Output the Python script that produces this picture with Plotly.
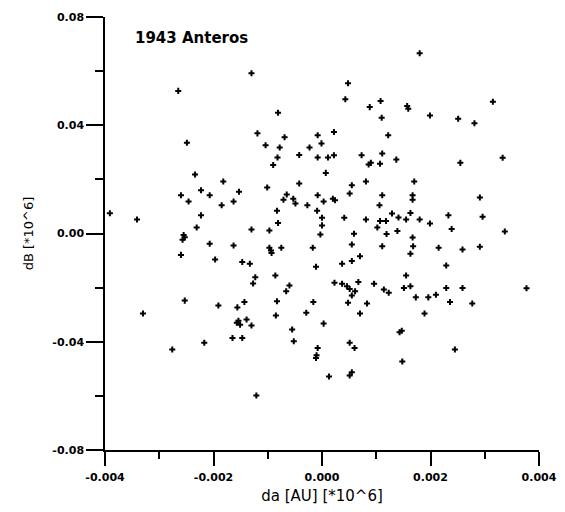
import plotly.graph_objects as go

# Data: da [AU] and dB values
da = [0.00180, -0.00130, 0.00048, -0.00265, 0.00043, 0.00108, 0.00315, 0.00088, 0.00157, 0.00159,
      -0.00081, 0.00199, 0.00110, 0.00251, 0.00281, 0.00022, -0.00119, -0.00008, 0.00122, -0.00069,
      -0.00249, -0.00104, -0.00001, -0.00078, -0.00023, 0.00111, -0.00042, -0.00008, -0.00082, 0.00011,
      0.00022, 0.00073, 0.00137, 0.00333, 0.00086, 0.00090, 0.00107, 0.00255, -0.00090, 0.00007,
      -0.00234, -0.00182, -0.00042, 0.00081, 0.00170, 0.00055, -0.00101, -0.00223, -0.00153, -0.00260,
      -0.00207, -0.00008, 0.00051, 0.00111, 0.00167, 0.00291, -0.00065, -0.00071, -0.00053, 0.00020,
      0.00024, 0.00167, -0.00246, -0.00163, -0.00049, 0.00003, -0.00185, -0.00027, 0.00106, -0.00083,
      -0.00009, 0.00163, 0.00129, -0.00391, -0.00223, 0.00233, 0.00296, 0.00141, -0.00341, 0.00000,
      0.00041, 0.00081, 0.00107, 0.00118, 0.00155, 0.00180, 0.00199, -0.00081, 0.00000, -0.00231,
      0.00102, 0.00239, -0.00130, -0.00097, 0.00139, 0.00337, -0.00003, 0.00059, 0.00119, -0.00255,
      -0.00253, -0.00257, 0.00167, -0.00207, -0.00163, 0.00055, 0.00111, 0.00168, 0.00215, 0.00291,
      -0.00097, -0.00075, -0.00017, -0.00094, -0.00093, 0.00259, -0.00260, 0.00163, 0.00070, -0.00197,
      0.00055, -0.00147, -0.00133, 0.00037, 0.00229, -0.00011, -0.00086, -0.00123, 0.00155, -0.00127,
      0.00023, 0.00037, 0.00067, 0.00096, 0.00046, -0.00060, 0.00163, 0.00151, 0.00229, 0.00259,
      0.00377, 0.00051, 0.00061, 0.00114, 0.00123, -0.00066, 0.00055, 0.00173, 0.00196, 0.00210,
      -0.00253, -0.00083, -0.00016, 0.00048, 0.00083, 0.00236, 0.00277, -0.00191, -0.00156, -0.00143,
      -0.00330, -0.00085, -0.00029, 0.00070, 0.00189, -0.00154, -0.00157, -0.00151, -0.00139, -0.00130,
      0.00003, -0.00055, 0.00147, 0.00143, -0.00165, -0.00147, -0.00052, -0.00217, 0.00051, 0.00060,
      -0.00008, -0.00276, 0.00245, -0.00010, -0.00011, 0.00148, 0.00013, 0.00051, 0.00055, -0.00121]

dB = [0.0666, 0.0592, 0.0555, 0.0527, 0.0496, 0.0490, 0.0487, 0.0467, 0.0471, 0.0461,
      0.0446, 0.0436, 0.0428, 0.0424, 0.0407, 0.0375, 0.0370, 0.0363, 0.0363, 0.0356,
      0.0335, 0.0326, 0.0333, 0.0318, 0.0318, 0.0296, 0.0290, 0.0281, 0.0281, 0.0281,
      0.0289, 0.0289, 0.0273, 0.0280, 0.0255, 0.0261, 0.0258, 0.0261, 0.0253, 0.0224,
      0.0218, 0.0192, 0.0185, 0.0192, 0.0192, 0.0178, 0.0170, 0.0160, 0.0154, 0.0141,
      0.0141, 0.0141, 0.0148, 0.0141, 0.0141, 0.0133, 0.0144, 0.0125, 0.0128, 0.0128,
      0.0123, 0.0125, 0.0118, 0.0118, 0.0111, 0.0118, 0.0104, 0.0104, 0.0104, 0.0084,
      0.0084, 0.0076, 0.0074, 0.0075, 0.0067, 0.0067, 0.0062, 0.0059, 0.0052, 0.0058,
      0.0058, 0.0052, 0.0046, 0.0046, 0.0052, 0.0052, 0.0037, 0.0039, 0.0030, 0.0022,
      0.0022, 0.0017, 0.0015, 0.0011, 0.0009, 0.0007, -0.0004, -0.0001, -0.0002, -0.0006,
      -0.0014, -0.0023, -0.0015, -0.0038, -0.0044, -0.0041, -0.0047, -0.0047, -0.0053, -0.0049,
      -0.0053, -0.0053, -0.0053, -0.0063, -0.0072, -0.0059, -0.0079, -0.0075, -0.0084, -0.0096,
      -0.0102, -0.0105, -0.0112, -0.0112, -0.0118, -0.0123, -0.0155, -0.0162, -0.0155, -0.0185,
      -0.0182, -0.0186, -0.0179, -0.0186, -0.0195, -0.0192, -0.0195, -0.0201, -0.0201, -0.0201,
      -0.0202, -0.0205, -0.0213, -0.0207, -0.0219, -0.0213, -0.0229, -0.0236, -0.0236, -0.0226,
      -0.0248, -0.0250, -0.0253, -0.0256, -0.0259, -0.0253, -0.0259, -0.0266, -0.0273, -0.0253,
      -0.0296, -0.0303, -0.0293, -0.0296, -0.0296, -0.0322, -0.0330, -0.0337, -0.0318, -0.0340,
      -0.0333, -0.0355, -0.0359, -0.0365, -0.0386, -0.0386, -0.0398, -0.0404, -0.0404, -0.0423,
      -0.0423, -0.0429, -0.0429, -0.0450, -0.0460, -0.0473, -0.0528, -0.0525, -0.0513, -0.0599]

x_tickvals = [-0.004, -0.002, 0.0, 0.002, 0.004]
x_ticktext = ["-0.004", "-0.002", "0.000", "0.002", "0.004"]
y_tickvals = [-0.08, -0.04, 0.0, 0.04, 0.08]
y_ticktext = ["-0.08", "-0.04", "0.00", "0.04", "0.08"]

title_text = "1943 Anteros"
x_title = "da [AU] [*10^6]"
y_title = "dB [*10^6]"

font_family = "DejaVu Sans"

fig = go.Figure()
fig.add_trace(go.Scatter(
    x=da, y=dB, mode="markers",
    marker=dict(symbol="cross-thin", size=4.3, color="black",
                line=dict(color="black", width=2)),
    showlegend=False, hoverinfo="x+y",
))

axis_common = dict(
    showgrid=False, zeroline=False, showline=True, linecolor="black", linewidth=1.5,
    ticks="outside", tickcolor="black", tickwidth=1.5,
    tickfont=dict(family=font_family, size=11, color="black", weight="bold"),
    mirror=False, automargin=False,
)

fig.update_layout(
    width=565, height=512,
    margin=dict(l=105, r=26, t=17, b=62),
    paper_bgcolor="white", plot_bgcolor="white",
    font=dict(family=font_family, color="black"),
    xaxis=dict(
        range=[-0.004, 0.004], tickvals=x_tickvals, ticktext=x_ticktext, ticklen=14,
        ticklabelstandoff=2,
        minor=dict(dtick=0.001, tick0=0, ticklen=7, ticks="outside", tickcolor="black", tickwidth=1.5),
        title=dict(text=x_title, font=dict(family=font_family, size=15, color="black"), standoff=8),
        **axis_common,
    ),
    yaxis=dict(
        range=[-0.08, 0.08], tickvals=y_tickvals, ticktext=y_ticktext, ticklen=17,
        minor=dict(dtick=0.02, tick0=0, ticklen=8, ticks="outside", tickcolor="black", tickwidth=1.5),
        title=dict(text=y_title, font=dict(family=font_family, size=13, color="black"), standoff=16),
        **axis_common,
    ),
    annotations=[dict(
        text=f"<b>{title_text}</b>", xref="paper", yref="paper",
        x=0.0645, y=0.951, xanchor="left", yanchor="middle", showarrow=False,
        font=dict(family=font_family, size=15, color="black"),
    )],
)

fig.write_html("out.html", config={"displayModeBar": False},
               post_script="document.body.style.margin='0';")
